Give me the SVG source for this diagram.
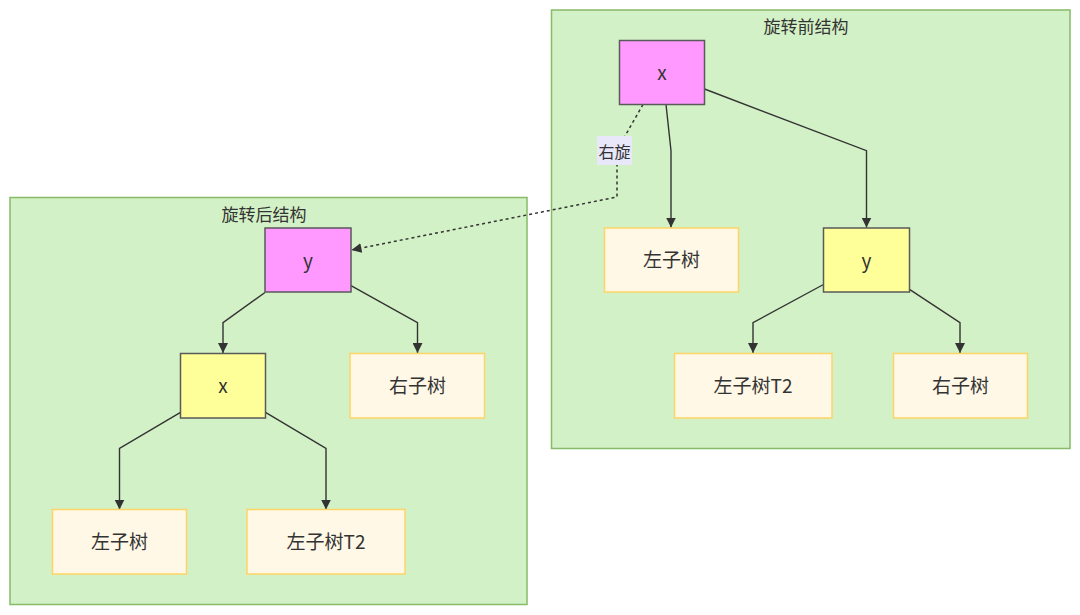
<svg xmlns="http://www.w3.org/2000/svg" width="1080" height="615" viewBox="0 0 1080 615">
  <style>
    .cluster { fill: #d3f1c6; stroke: #86bb68; stroke-width: 1.5; }
    .ctitle { font-family: "Noto Sans CJK SC", "Noto Sans", sans-serif; font-size: 17px; fill: #333; text-anchor: middle; dominant-baseline: central; }
    .pink { fill: #ff99ff; stroke: #5a5a5a; stroke-width: 1.5; }
    .yellow { fill: #ffff99; stroke: #5a5a5a; stroke-width: 1.5; }
    .sub { fill: #fff8e7; stroke: #ffd466; stroke-width: 1.5; }
    .lbl { font-family: "Noto Sans CJK SC", "Noto Sans", sans-serif; font-size: 19px; fill: #333; text-anchor: middle; dominant-baseline: central; }
    .edge { fill: none; stroke: #333; stroke-width: 1.4; }
    .dash { fill: none; stroke: #333; stroke-width: 1.5; stroke-dasharray: 3 3; }
    .elbg { fill: #e8e8fa; }
    .eltxt { font-family: "Noto Sans CJK SC", "Noto Sans", sans-serif; font-size: 16px; fill: #333; text-anchor: middle; dominant-baseline: central; }
  </style>
  <defs>
    <marker id="arrow" viewBox="0 0 10 10" refX="10" refY="5" markerUnits="userSpaceOnUse" markerWidth="10" markerHeight="10" orient="auto">
      <path d="M0,0 L10,5 L0,10 z" fill="#333"/>
    </marker>
  </defs>

  <g id="cluster-after">
    <rect class="cluster" x="10" y="197.5" width="517" height="407"/>
    <text class="ctitle" x="264" y="213">旋转后结构</text>
  </g>
  <g id="cluster-before">
    <rect class="cluster" x="551.5" y="10" width="518.5" height="438.5"/>
    <text class="ctitle" x="806" y="25">旋转前结构</text>
  </g>

  <g id="connectors">
    <!-- before -->
    <path class="edge" d="M666,104.5 L671,150.7 L671,227.5" marker-end="url(#arrow)"/>
    <path class="edge" d="M704.5,89 L866.5,150.7 L866.5,227.5" marker-end="url(#arrow)"/>
    <path class="edge" d="M823.5,284.5 L753,322.7 L753,353" marker-end="url(#arrow)"/>
    <path class="edge" d="M909.5,289.3 L960,322.7 L960,353" marker-end="url(#arrow)"/>
    <!-- after -->
    <path class="edge" d="M265,292.5 L223,322.7 L223,353" marker-end="url(#arrow)"/>
    <path class="edge" d="M351,285.7 L417.5,322.7 L417.5,353" marker-end="url(#arrow)"/>
    <path class="edge" d="M180.5,412.3 L119.5,448.3 L119.5,509.5" marker-end="url(#arrow)"/>
    <path class="edge" d="M265.5,412.3 L326,448.3 L326,509.5" marker-end="url(#arrow)"/>
    <!-- rotation -->
    <path class="dash" d="M643,104.5 L617,150 L617,197 L351.5,250" marker-end="url(#arrow)"/>
    <g id="edge-label">
      <rect class="elbg" x="597" y="136" width="35" height="29"/>
      <text class="eltxt" x="614.5" y="150.5">右旋</text>
    </g>
  </g>

  <g id="b-x">
    <rect class="pink" x="619.5" y="40.5" width="85" height="64"/>
    <text class="lbl" x="662" y="71">x</text>
  </g>
  <g id="b-left">
    <rect class="sub" x="604.5" y="228" width="134" height="64"/>
    <text class="lbl" x="671.5" y="258">左子树</text>
  </g>
  <g id="b-y">
    <rect class="yellow" x="823.5" y="228" width="86" height="64"/>
    <text class="lbl" x="866.5" y="259">y</text>
  </g>
  <g id="b-t2">
    <rect class="sub" x="674.5" y="353.5" width="157.5" height="64.5"/>
    <text class="lbl" x="753" y="384">左子树T2</text>
  </g>
  <g id="b-right">
    <rect class="sub" x="893.5" y="353.5" width="134" height="64.5"/>
    <text class="lbl" x="960.5" y="384">右子树</text>
  </g>

  <g id="a-y">
    <rect class="pink" x="265" y="228" width="86" height="64"/>
    <text class="lbl" x="308" y="259">y</text>
  </g>
  <g id="a-x">
    <rect class="yellow" x="180.5" y="353.5" width="85" height="64.5"/>
    <text class="lbl" x="223" y="384">x</text>
  </g>
  <g id="a-right">
    <rect class="sub" x="350" y="353.5" width="134.5" height="64.5"/>
    <text class="lbl" x="417.5" y="384">右子树</text>
  </g>
  <g id="a-left">
    <rect class="sub" x="52.5" y="509.5" width="134" height="64.5"/>
    <text class="lbl" x="119.5" y="540">左子树</text>
  </g>
  <g id="a-t2">
    <rect class="sub" x="247" y="509.5" width="158" height="64.5"/>
    <text class="lbl" x="326" y="540">左子树T2</text>
  </g>
</svg>
